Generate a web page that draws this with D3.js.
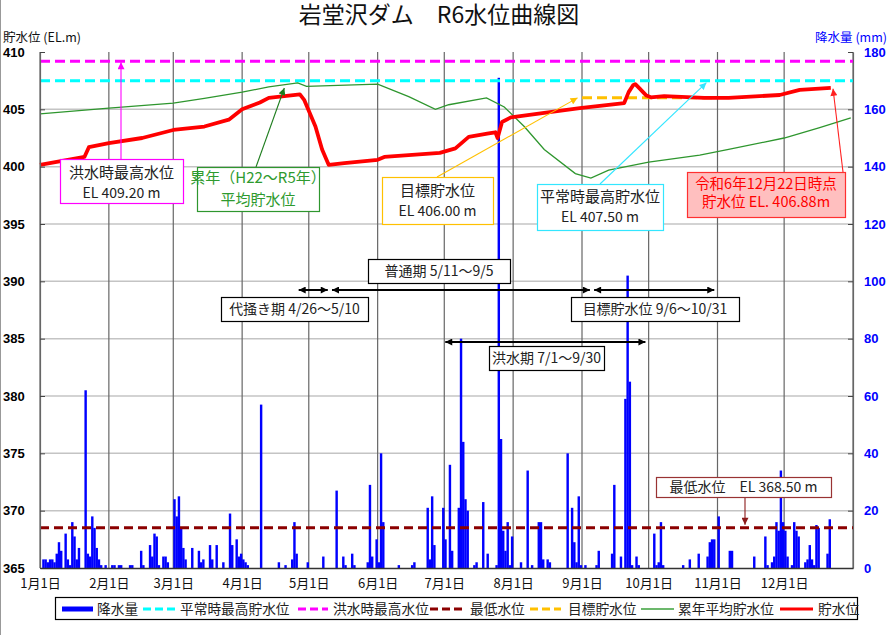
<!DOCTYPE html>
<html>
<head>
<meta charset="utf-8">
<script src="https://cdn.jsdelivr.net/npm/d3@7"></script>
<style>
  body { margin: 0; background: #fff; }
  svg { font-family: "Noto Sans CJK JP", "Noto Sans", sans-serif; }
  .num { font-family: "Liberation Sans", Arial, sans-serif; font-weight: bold; font-size: 13px; }
</style>
</head>
<body>
<div id="chart"></div>
<script>
var year = 2024;

// daily rainfall (mm), one list per month
var rainJan = [0,3,3,2,3,3,2,5,9,6,0,12,3,1,16,11,3,7,0,0,62,5,4,18,14,7,3,1,0,1,0];
var rainFeb = [0,1,1,0,1,1,0,0,0,1,1,0,0,0,6,1,0,0,8,4,12,11,1,0,4,4,2,0,0];
var rainMar = [24,18,25,14,7,3,0,0,7,0,0,6,2,3,0,0,8,3,0,8,0,0,2,0,0,19,8,0,10,4,5];
var rainApr = [3,2,1,0,0,0,0,0,57,0,0,0,0,0,0,0,2,0,0,1,0,0,3,16,5,0,0,0,0,2];
var rainMay = [0,0,0,0,0,0,4,0,0,0,0,0,27,0,0,4,1,0,0,5,1,0,0,0,0,0,2,29,4,0,10];
var rainJun = [2,40,16,0,0,0,0,0,0,1,0,0,0,0,0,1,2,0,0,0,0,0,21,3,25,8,0,0,0,21];
var rainJul = [10,0,36,6,0,0,21,80,44,24,20,0,0,1,2,0,0,23,0,5,0,0,0,1,171,45,13,6,16,1,11];
var rainAug = [0,0,0,2,0,0,34,0,1,0,0,16,16,3,0,3,2,0,0,0,0,0,0,0,40,0,21,9,2,25,1];
var rainSep = [0,1,0,0,0,0,1,6,0,0,0,0,0,5,29,0,0,4,0,59,102,65,1,0,4,1,0,0,0,0];
var rainOct = [0,0,12,1,2,16,1,0,0,0,0,0,0,0,0,1,0,0,3,0,0,0,5,0,0,0,4,9,10,10,0];
var rainNov = [18,0,0,0,0,6,6,0,0,0,0,0,0,0,0,0,4,0,0,0,0,11,1,0,2,4,16,13,34,16];
var rainDec = [13,4,0,1,16,13,11,0,0,2,3,8,3,1,15,14,0,0,0,5,17,0,0,0,0,0,0,0,0,0,0];

// reservoir level R6 (EL.m)
var levelDates = ["1/1","1/21","1/23","2/1","2/16","3/1","3/15","3/26","4/1","4/9","4/13","4/27","4/29",
  "5/4","5/7","5/10","5/17","6/1","6/4","6/29","7/6","7/12","7/21","7/24","7/25","7/27","7/31","8/15",
  "8/31","9/9","9/20","9/22","9/24","9/25","9/27","9/30","10/2","10/8","10/26","11/6","11/29","12/8","12/22"];
var levelValues = [400.15,400.85,401.7,402.05,402.5,403.2,403.5,404.1,405.0,405.6,406.0,406.3,405.8,
  403.5,401.5,400.15,400.3,400.6,400.85,401.2,401.6,402.6,402.9,403.0,402.5,403.9,404.3,404.7,
  405.1,405.3,405.55,406.5,407.1,407.2,406.8,406.2,406.05,406.15,406.0,406.0,406.25,406.7,406.88];

// average level H22-R5
var avgDates = ["1/1","2/1","3/1","3/15","4/1","4/13","4/26","4/30","6/1","6/15","6/27","7/3","7/20",
  "7/28","8/6","8/15","8/29","9/5","9/13","10/1","10/24","11/6","12/1","12/17","12/31"];
var avgValues = [404.6,405.1,405.55,405.95,406.5,406.95,407.3,407.0,407.2,406.1,405.0,405.4,406.0,
  405.2,403.5,401.5,399.4,399.0,399.7,400.4,401.0,401.5,402.5,403.4,404.25];

var floodLevel = 409.2, normalHigh = 407.5, minLevel = 368.5, targetLevel = 406.0;
var targetFrom = "9/1", targetTo = "10/31";

var levelTicks = [365,370,375,380,385,390,395,400,405,410];
var rainTicks = [0,20,40,60,80,100,120,140,160,180];
var monthLabels = ["1月1日","2月1日","3月1日","4月1日","5月1日","6月1日","7月1日","8月1日","9月1日","10月1日","11月1日","12月1日"];

var periods = [
  { from: "4/26", to: "5/10", label: "代掻き期 4/26～5/10" },
  { from: "5/11", to: "9/5",  label: "普通期 5/11～9/5" },
  { from: "9/6",  to: "10/31", label: "目標貯水位 9/6～10/31" },
  { from: "7/1",  to: "9/30", label: "洪水期 7/1～9/30" }
];

function md(s) { var p = s.split("/"); return new Date(year, +p[0] - 1, +p[1]); }

var rainByMonth = [rainJan,rainFeb,rainMar,rainApr,rainMay,rainJun,rainJul,rainAug,rainSep,rainOct,rainNov,rainDec];
var rain = [];
rainByMonth.forEach(function(arr, m) {
  arr.forEach(function(v, i) { rain.push({ date: new Date(year, m, i + 1), v: v }); });
});
var level = levelDates.map(function(d, i) { return { date: md(d), v: levelValues[i] }; });
var avg = avgDates.map(function(d, i) { return { date: md(d), v: avgValues[i] }; });

var W = 890, H = 635;
var pLeft = 40, pRight = 853, pTop = 52, pBottom = 568;

var x = d3.scaleTime().domain([new Date(year, 0, 1), new Date(year + 1, 0, 1)]).range([pLeft, pRight]);
var yL = d3.scaleLinear().domain([365, 410]).range([pBottom, pTop]);
var yR = d3.scaleLinear().domain([0, 180]).range([pBottom, pTop]);

var svg = d3.select("#chart").append("svg").attr("width", W).attr("height", H);
svg.append("rect").attr("width", W).attr("height", H).attr("fill", "#fff");
svg.append("line").attr("x1", 0.5).attr("x2", 0.5).attr("y1", 0).attr("y2", H)
  .attr("stroke", "#999").attr("stroke-width", 1);

var defs = svg.append("defs");
function marker(id, color, w, h) {
  defs.append("marker").attr("id", id)
    .attr("viewBox", "0 0 10 10").attr("refX", 10).attr("refY", 5)
    .attr("markerWidth", w).attr("markerHeight", h)
    .attr("markerUnits", "userSpaceOnUse").attr("orient", "auto-start-reverse")
    .append("path").attr("d", "M0,0 L10,5 L0,10 Z").attr("fill", color);
}
marker("arBlack", "#000", 9, 7);
marker("arMag", "#ff00ff", 8, 7);
marker("arGreen", "#1e7d1e", 8, 7);
marker("arOrange", "#ffc000", 8, 7);
marker("arCyan", "#33e6ff", 8, 7);
marker("arRed", "#ff2020", 8, 7);
marker("arDark", "#8b1a1a", 8, 7);

// title and axis titles
svg.append("text").attr("x", 439).attr("y", 23).attr("text-anchor", "middle")
  .attr("font-size", 23).attr("fill", "#111").text("岩堂沢ダム　R6水位曲線図");
svg.append("text").attr("x", 3).attr("y", 42).attr("font-size", 12.5).attr("fill", "#111").text("貯水位 (EL.m)");
svg.append("text").attr("x", 887).attr("y", 42).attr("text-anchor", "end").attr("font-size", 12.5)
  .attr("fill", "#0000ff").text("降水量 (mm)");

// horizontal grid
svg.append("g").selectAll("line").data(levelTicks.filter(function(t) { return t > 365 && t < 410; }))
  .enter().append("line")
  .attr("x1", pLeft).attr("x2", pRight)
  .attr("y1", function(d) { return yL(d); }).attr("y2", function(d) { return yL(d); })
  .attr("stroke", "#c4c4c4").attr("stroke-width", 1.5);

// vertical month grid
var monthStarts = d3.timeMonth.range(new Date(year, 0, 1), new Date(year + 1, 0, 1));
svg.append("g").selectAll("line").data(monthStarts.concat([new Date(year + 1, 0, 1)]))
  .enter().append("line")
  .attr("x1", function(d) { return x(d); }).attr("x2", function(d) { return x(d); })
  .attr("y1", pTop).attr("y2", pBottom)
  .attr("stroke", "#666").attr("stroke-width", 1.2);

// rainfall bars
svg.append("g").selectAll("rect").data(rain.filter(function(d) { return d.v > 0; }))
  .enter().append("rect")
  .attr("x", function(d) { return x(d.date); })
  .attr("width", function(d) { return x(d3.timeDay.offset(d.date, 1)) - x(d.date) + 0.2; })
  .attr("y", function(d) { return yR(d.v); })
  .attr("height", function(d) { return pBottom - yR(d.v); })
  .attr("fill", "#0000ff");

// reference levels
function hLine(v, color, dash, x1, x2) {
  svg.append("line").attr("x1", x1).attr("x2", x2).attr("y1", yL(v)).attr("y2", yL(v))
    .attr("stroke", color).attr("stroke-width", 3).attr("stroke-dasharray", dash);
}
hLine(floodLevel, "#ff00ff", "10,5", pLeft, pRight);
hLine(normalHigh, "#00ffff", "10,5", pLeft, pRight);
hLine(minLevel, "#8b0000", "9,5", pLeft, pRight);
hLine(targetLevel, "#ffc000", "10,5", x(md(targetFrom)), x(md(targetTo)));

var line = d3.line().x(function(d) { return x(d.date); }).y(function(d) { return yL(d.v); });
svg.append("path").datum(avg).attr("d", line).attr("fill", "none")
  .attr("stroke", "#2e962e").attr("stroke-width", 1.3);
svg.append("path").datum(level).attr("d", line).attr("fill", "none")
  .attr("stroke", "#ff0000").attr("stroke-width", 3.8).attr("stroke-linejoin", "round");

// axes
var axL = svg.append("g").attr("transform", "translate(" + pLeft + ",0)")
  .call(d3.axisLeft(yL).tickValues(levelTicks).tickSizeInner(-5).tickSizeOuter(0));
axL.select(".domain").attr("stroke", "#666").attr("stroke-width", 1.2);
axL.selectAll(".tick line").attr("stroke", "#444");
axL.selectAll(".tick text").attr("class", "num").attr("x", -37).attr("text-anchor", "start").attr("fill", "#000");

var axR = svg.append("g").attr("transform", "translate(" + pRight + ",0)")
  .call(d3.axisRight(yR).tickValues(rainTicks).tickSizeInner(-5).tickSizeOuter(0).tickPadding(11));
axR.select(".domain").attr("stroke", "#666").attr("stroke-width", 1.2);
axR.selectAll(".tick line").attr("stroke", "#444");
axR.selectAll(".tick text").attr("class", "num").attr("fill", "#0000ff");

var axB = svg.append("g").attr("transform", "translate(0," + pBottom + ")")
  .call(d3.axisBottom(x).tickValues(monthStarts).tickSize(0).tickPadding(11)
    .tickFormat(function(d, i) { return monthLabels[i]; }));
axB.select(".domain").attr("stroke", "#333").attr("stroke-width", 1.5);
axB.selectAll(".tick text").attr("font-size", 13).attr("font-family", "Noto Sans CJK JP").attr("fill", "#111");

// annotation boxes
function box(x0, y0, w, h, stroke, fill, lines) {
  var g = svg.append("g");
  g.append("rect").attr("x", x0 + 0.5).attr("y", y0 + 0.5).attr("width", w).attr("height", h)
    .attr("fill", fill).attr("stroke", stroke).attr("stroke-width", 1.2);
  lines.forEach(function(l) {
    g.append("text").attr("x", x0 + w / 2).attr("y", l.y).attr("text-anchor", "middle")
      .attr("font-size", l.size || 15).attr("fill", l.color || "#222").text(l.text);
  });
}
function arrow(x1, y1, x2, y2, color, mk, both) {
  var l = svg.append("line").attr("x1", x1).attr("y1", y1).attr("x2", x2).attr("y2", y2)
    .attr("stroke", color).attr("stroke-width", both ? 2 : 1.1)
    .attr("marker-end", "url(#" + mk + ")");
  if (both) l.attr("marker-start", "url(#" + mk + ")");
}

// flood level
arrow(121, 159, 121, yL(floodLevel) + 1, "#ff00ff", "arMag");
box(60, 159, 123, 44, "#ff00ff", "#fff", [
  { y: 178, text: "洪水時最高水位" }, { y: 198, text: "EL 409.20 m", size: 14 }]);

// average level
arrow(256, 167, x(md("4/20")), yL(406.95) + 1, "#1e7d1e", "arGreen");
box(197, 167, 122, 44, "#2e962e", "#fff", [
  { y: 183, text: "累年（H22～R5年）", color: "#2e9a2e" },
  { y: 205, text: "平均貯水位", color: "#2e9a2e" }]);

// target level
arrow(437, 177, x(md("8/30")), yL(targetLevel), "#ffc000", "arOrange");
box(382, 177, 111, 47, "#ffc000", "#fff", [
  { y: 196, text: "目標貯水位" }, { y: 216, text: "EL 406.00 m", size: 14 }]);

// normal high level
arrow(600, 184, x(md("10/27")), yL(normalHigh) + 2, "#33e6ff", "arCyan");
box(537, 184, 126, 46, "#33e6ff", "#fff", [
  { y: 202, text: "平常時最高貯水位" }, { y: 222, text: "EL 407.50 m", size: 14 }]);

// current level
arrow(843, 172, x(md("12/23")), yL(levelValues[levelValues.length - 1]) + 1, "#ff2020", "arRed");
box(687, 172, 158, 45, "#ff3030", "#ffbfbf", [
  { y: 189, text: "令和6年12月22日時点", color: "#ff0000", size: 14.5 },
  { y: 207, text: "貯水位 EL. 406.88m", color: "#ff0000", size: 14.5 }]);

// minimum level
arrow(745, 497, 745, yL(minLevel) - 3, "#8b1a1a", "arDark");
box(656, 477, 175, 20, "#993333", "#fff", [{ y: 492, text: "最低水位　EL 368.50 m", size: 14 }]);

// operation periods
var periodRows = [
  { y: 290, bx: 221, by: 297, bw: 147 },
  { y: 290, bx: 368, by: 259, bw: 142 },
  { y: 290, bx: 571, by: 297, bw: 168 },
  { y: 342, bx: 489, by: 346, bw: 115 }
];
periods.forEach(function(p, i) {
  var r = periodRows[i];
  var x1 = x(md(p.from)), x2 = x(md(p.to));
  arrow(x1 + 1, r.y, x2 - 1, r.y, "#000", "arBlack", true);
  box(r.bx, r.by, r.bw, 24, "#000", "#fff", [{ y: r.by + 17, text: p.label, size: 14 }]);
});

// legend
var lg = svg.append("g");
lg.append("rect").attr("x", 55.5).attr("y", 597.5).attr("width", 802).attr("height", 22)
  .attr("fill", "#fff").attr("stroke", "#000").attr("stroke-width", 1.2);
var legendItems = [
  { x0: 62, x1: 93, color: "#0000ff", w: 5, dash: null, tx: 97, label: "降水量" },
  { x0: 143, x1: 175, color: "#00ffff", w: 3, dash: "8,4", tx: 180, label: "平常時最高貯水位" },
  { x0: 298, x1: 328, color: "#ff00ff", w: 3, dash: "8,4", tx: 333, label: "洪水時最高水位" },
  { x0: 430, x1: 464, color: "#8b0000", w: 3, dash: "8,4", tx: 470, label: "最低水位" },
  { x0: 530, x1: 561, color: "#ffc000", w: 3, dash: "8,4", tx: 568, label: "目標貯水位" },
  { x0: 641, x1: 674, color: "#6cb86c", w: 2, dash: null, tx: 678, label: "累年平均貯水位" },
  { x0: 780, x1: 813, color: "#ff0000", w: 3, dash: null, tx: 818, label: "貯水位" }
];
legendItems.forEach(function(it) {
  lg.append("line").attr("x1", it.x0).attr("x2", it.x1).attr("y1", 609).attr("y2", 609)
    .attr("stroke", it.color).attr("stroke-width", it.w).attr("stroke-dasharray", it.dash);
  lg.append("text").attr("x", it.tx).attr("y", 614).attr("font-size", 13.7).attr("fill", "#222").text(it.label);
});
</script>
</body>
</html>
